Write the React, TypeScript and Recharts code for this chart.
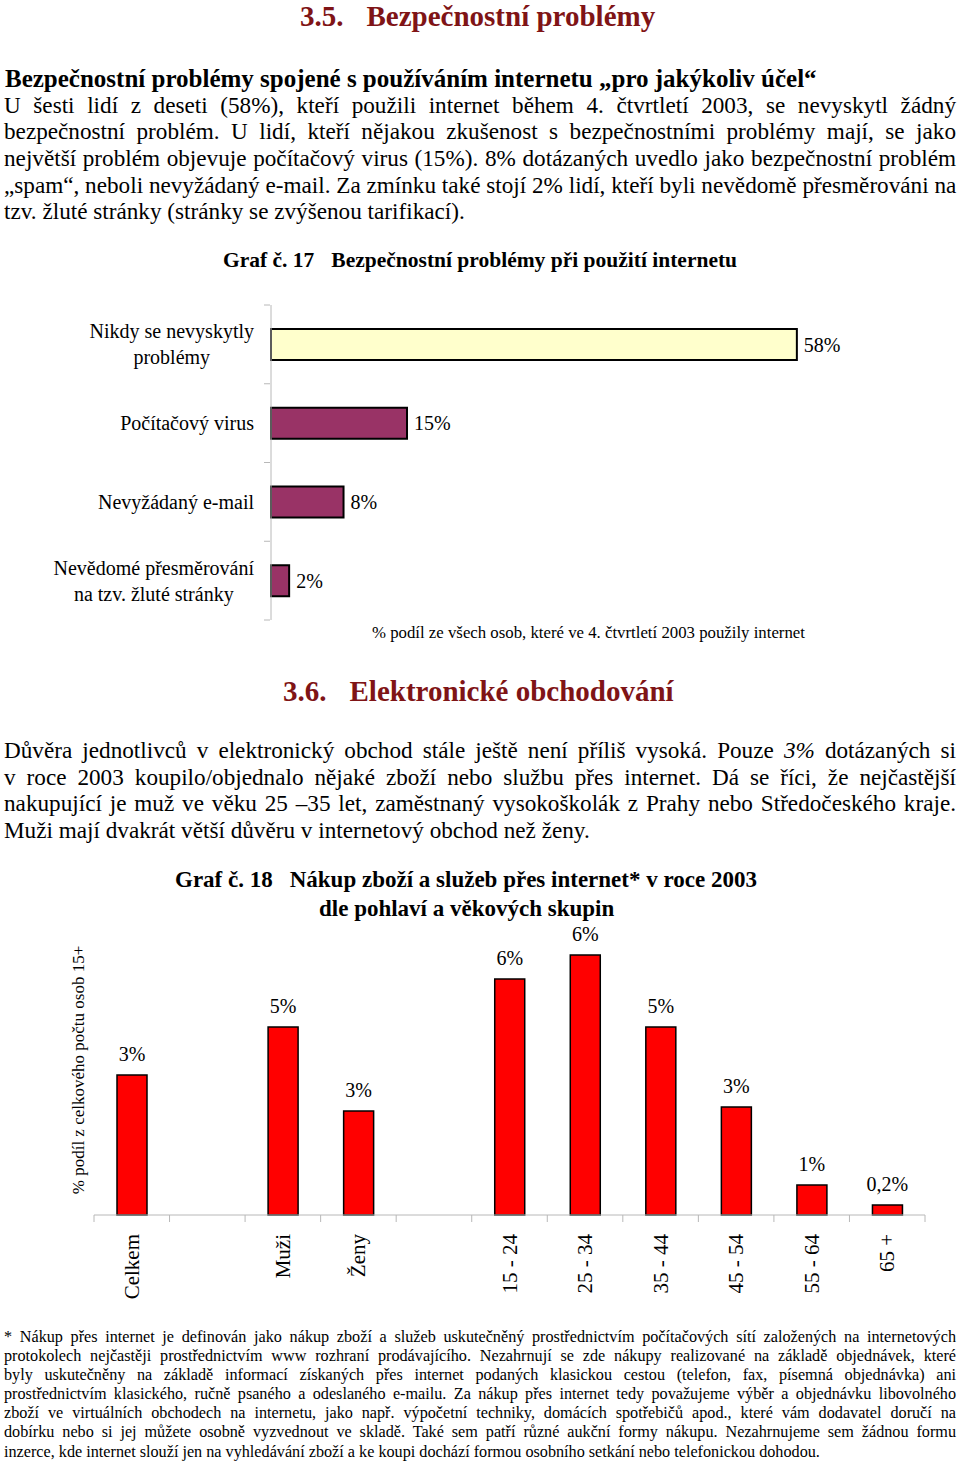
import React from 'react';
import { BarChart, Bar, XAxis, YAxis, Cell, LabelList } from 'recharts';

const FONT = '"Liberation Serif", "Times New Roman", serif';

// Graf č. 17
const problemCategories = [
  'Nikdy se nevyskytly\nproblémy',
  'Počítačový virus',
  'Nevyžádaný e-mail',
  'Nevědomé přesměrování\nna tzv. žluté stránky',
];
const problemValues = [58, 15, 8, 2];
const problemLabels = ['58%', '15%', '8%', '2%'];
const problemColors = ['#FFFFCC', '#993366', '#993366', '#993366'];

// Graf č. 18
const shopCategories = ['Celkem', '', 'Muži', 'Ženy', ' ', '15 - 24', '25 - 34', '35 - 44', '45 - 54', '55 - 64', '65 +'];
const shopValues = [3.5, null, 4.7, 2.6, null, 5.9, 6.5, 4.7, 2.7, 0.75, 0.25];
const shopLabels = ['3%', '', '5%', '3%', '', '6%', '6%', '5%', '3%', '1%', '0,2%'];

const problemData = problemCategories.map((name, i) => ({
  name,
  value: problemValues[i],
  label: problemLabels[i],
}));
const shopData = shopCategories.map((name, i) => ({
  name,
  value: shopValues[i],
  label: shopLabels[i],
}));

let ctx: CanvasRenderingContext2D | null = null;
function textWidth(s: string, font: string) {
  if (!ctx) ctx = document.createElement('canvas').getContext('2d');
  if (!ctx) return s.length * 9;
  ctx.font = font;
  return ctx.measureText(s).width;
}

// chart 1 geometry
const C1_TOP = 15;
const C1_PLOT_H = 315;
const C1_BAND = C1_PLOT_H / problemCategories.length;

function ProblemTick(props: any) {
  const { y, payload, index } = props;
  const lines = String(payload.value).split('\n');
  const w = Math.max(...lines.map((l) => textWidth(l, `20px ${FONT}`)));
  const cx = 254 - w / 2;
  const axisX = 270;
  return (
    <g>
      <line x1={axisX - 6} x2={axisX} y1={y - C1_BAND / 2} y2={y - C1_BAND / 2} stroke="#b8b8b8" />
      {index === problemCategories.length - 1 && (
        <line x1={axisX - 6} x2={axisX} y1={y + C1_BAND / 2} y2={y + C1_BAND / 2} stroke="#b8b8b8" />
      )}
      {lines.map((l, i) => (
        <text
          key={i}
          x={cx}
          y={y + (i - (lines.length - 1) / 2) * 26}
          textAnchor="middle"
          dominantBaseline="central"
          fontSize={20}
          fill="#000"
        >
          {l}
        </text>
      ))}
    </g>
  );
}

// chart 2 geometry
const C2_TOP = 30;
const C2_PLOT_H = 280;
const C2_LEFT = 94;
const C2_RIGHT = 35;
const C2_BAND = (960 - C2_LEFT - C2_RIGHT) / shopCategories.length;
const C2_AXIS_Y = C2_TOP + C2_PLOT_H;

function ShopTick(props: any) {
  const { x, payload, index } = props;
  const ty = C2_AXIS_Y + 19;
  return (
    <g>
      <line x1={x - C2_BAND / 2} x2={x - C2_BAND / 2} y1={C2_AXIS_Y} y2={C2_AXIS_Y + 7} stroke="#b8b8b8" />
      {index === shopCategories.length - 1 && (
        <line x1={x + C2_BAND / 2} x2={x + C2_BAND / 2} y1={C2_AXIS_Y} y2={C2_AXIS_Y + 7} stroke="#b8b8b8" />
      )}
      <text
        x={x}
        y={ty}
        transform={`rotate(-90, ${x}, ${ty})`}
        textAnchor="end"
        dominantBaseline="central"
        fontSize={21}
        fill="#000"
      >
        {payload.value}
      </text>
    </g>
  );
}

type TProps = {
  x: number;
  cy: number;
  size: number;
  lh?: number;
  bold?: boolean;
  color?: string;
  w?: number;
  justify?: boolean;
  children: React.ReactNode;
};

function T({ x, cy, size, lh, bold, color, w, justify, children }: TProps) {
  const lineH = lh || size * 1.2;
  return (
    <div
      style={{
        position: 'absolute',
        left: x,
        top: cy - lineH / 2 - 1,
        width: w,
        fontSize: size,
        lineHeight: `${lineH}px`,
        fontWeight: bold ? 'bold' : 'normal',
        color: color || '#000',
        whiteSpace: 'nowrap',
        textAlign: justify ? 'justify' : 'left',
        textAlignLast: justify ? 'justify' : 'left',
      }}
    >
      {children}
    </div>
  );
}

const para1 = [
  'U šesti lidí z deseti (58%), kteří použili internet během 4. čtvrtletí 2003,  se nevyskytl žádný',
  'bezpečnostní problém. U lidí, kteří nějakou zkušenost s bezpečnostními problémy mají, se jako',
  'největší problém objevuje počítačový virus (15%). 8% dotázaných uvedlo jako bezpečnostní problém',
  '„spam“, neboli nevyžádaný e-mail. Za zmínku také stojí 2% lidí, kteří byli nevědomě přesměrováni na',
  'tzv. žluté stránky (stránky se zvýšenou tarifikací).',
];
const para1Y = [106, 132, 159, 186, 212];

const para2Y = [751, 778, 804, 831];

const footnote = [
  '* Nákup přes internet je definován jako nákup zboží a služeb uskutečněný prostřednictvím počítačových sítí založených na internetových',
  'protokolech nejčastěji prostřednictvím www rozhraní prodávajícího. Nezahrnují se zde nákupy realizované na základě objednávek, které',
  'byly uskutečněny na základě informací získaných přes internet podaných klasickou cestou (telefon, fax, písemná objednávka) ani',
  'prostřednictvím klasického, ručně psaného a odeslaného e-mailu. Za nákup přes internet tedy považujeme výběr a objednávku libovolného',
  'zboží ve virtuálních obchodech na internetu, jako např. výpočetní techniky, domácích spotřebičů apod., které vám dodavatel doručí na',
  'dobírku nebo si jej můžete osobně vyzvednout ve skladě. Také sem patří různé aukční formy nákupu. Nezahrnujeme sem žádnou formu',
  'inzerce, kde internet slouží jen na vyhledávání zboží a ke koupi dochází formou osobního setkání nebo telefonickou dohodou.',
];
const footY = [1338, 1357, 1376, 1395, 1414, 1433, 1453];

const TITLE_RED = '#7f1416';

export default function App() {
  return (
    <div
      style={{
        position: 'absolute',
        left: 0,
        top: 0,
        width: 960,
        height: 1465,
        background: '#fff',
        fontFamily: FONT,
        overflow: 'hidden',
      }}
    >
      <T x={300} cy={17} size={29} lh={30} bold color={TITLE_RED}>
        3.5.<span style={{ display: 'inline-block', width: 23 }} />Bezpečnostní problémy
      </T>

      <T x={5} cy={79} size={25} lh={27} bold>
        Bezpečnostní problémy spojené s používáním internetu „pro jakýkoliv účel“
      </T>
      {para1.map((l, i) => (
        <T key={i} x={4} cy={para1Y[i]} size={23.2} lh={26} w={952} justify={i < para1.length - 1}>
          {l}
        </T>
      ))}

      <T x={223} cy={262} size={21.5} bold>
        Graf č. 17<span style={{ display: 'inline-block', width: 17 }} />Bezpečnostní problémy při použití internetu
      </T>

      <div style={{ position: 'absolute', left: 0, top: 290 }}>
        <BarChart
          width={960}
          height={C1_TOP + C1_PLOT_H + 25}
          data={problemData}
          layout="vertical"
          margin={{ top: C1_TOP, right: 145, bottom: 25, left: 0 }}
          style={{ fontFamily: FONT }}
        >
          <XAxis type="number" domain={[0, 60]} hide />
          <YAxis
            type="category"
            dataKey="name"
            width={271}
            axisLine={{ stroke: '#b8b8b8' }}
            tickLine={false}
            tick={<ProblemTick />}
            interval={0}
          />
          <Bar dataKey="value" barSize={31} stroke="#000" strokeWidth={2} isAnimationActive={false}>
            {problemData.map((d, i) => (
              <Cell key={d.name} fill={problemColors[i]} />
            ))}
            <LabelList dataKey="label" position="right" offset={7} fontSize={20} fill="#000" />
          </Bar>
        </BarChart>
      </div>

      <T x={372} cy={634} size={16.8}>
        % podíl ze všech osob, které ve 4. čtvrtletí 2003 použily internet
      </T>

      <T x={283} cy={692} size={29} lh={30} bold color={TITLE_RED}>
        3.6.<span style={{ display: 'inline-block', width: 23 }} />Elektronické obchodování
      </T>

      <T x={4} cy={para2Y[0]} size={23.2} lh={26} w={952} justify>
        Důvěra jednotlivců v elektronický obchod stále ještě není příliš vysoká. Pouze <i>3%</i>  dotázaných si
      </T>
      <T x={4} cy={para2Y[1]} size={23.2} lh={26} w={952} justify>
        v roce 2003 koupilo/objednalo nějaké zboží nebo službu přes internet. Dá se říci, že nejčastější
      </T>
      <T x={4} cy={para2Y[2]} size={23.2} lh={26} w={952} justify>
        nakupující je muž ve věku 25 –35 let, zaměstnaný vysokoškolák z Prahy nebo Středočeského kraje.
      </T>
      <T x={4} cy={para2Y[3]} size={23.2} lh={26}>
        Muži mají dvakrát větší důvěru v internetový obchod než ženy.
      </T>

      <T x={175} cy={881} size={23} lh={26} bold>
        Graf č. 18<span style={{ display: 'inline-block', width: 17 }} />Nákup zboží a služeb přes internet* v roce 2003
      </T>
      <T x={319} cy={910} size={23} lh={26} bold>
        dle pohlaví a věkových skupin
      </T>

      <div style={{ position: 'absolute', left: 0, top: 905 }}>
        <BarChart
          width={960}
          height={C2_AXIS_Y + 110}
          data={shopData}
          margin={{ top: C2_TOP, right: C2_RIGHT, bottom: 0, left: C2_LEFT }}
          style={{ fontFamily: FONT }}
        >
          <XAxis
            dataKey="name"
            interval={0}
            height={110}
            axisLine={{ stroke: '#b8b8b8' }}
            tickLine={false}
            tick={<ShopTick />}
          />
          <YAxis hide domain={[0, 7]} />
          <Bar dataKey="value" barSize={30} fill="#FF0000" stroke="#000" strokeWidth={1.5} isAnimationActive={false}>
            <LabelList dataKey="label" position="top" offset={14} fontSize={20} fill="#000" />
          </Bar>
        </BarChart>
      </div>

      <svg style={{ position: 'absolute', left: 0, top: 0, pointerEvents: 'none' }} width={120} height={1465}>
        <text
          x={78}
          y={1070}
          transform="rotate(-90, 78, 1070)"
          textAnchor="middle"
          dominantBaseline="central"
          fontSize={17}
          fontFamily={FONT}
          fill="#000"
        >
          % podíl z celkového počtu osob 15+
        </text>
      </svg>

      {footnote.map((l, i) => (
        <T key={i} x={4} cy={footY[i]} size={16.2} lh={19} w={952} justify={i < footnote.length - 1}>
          {l}
        </T>
      ))}
    </div>
  );
}
